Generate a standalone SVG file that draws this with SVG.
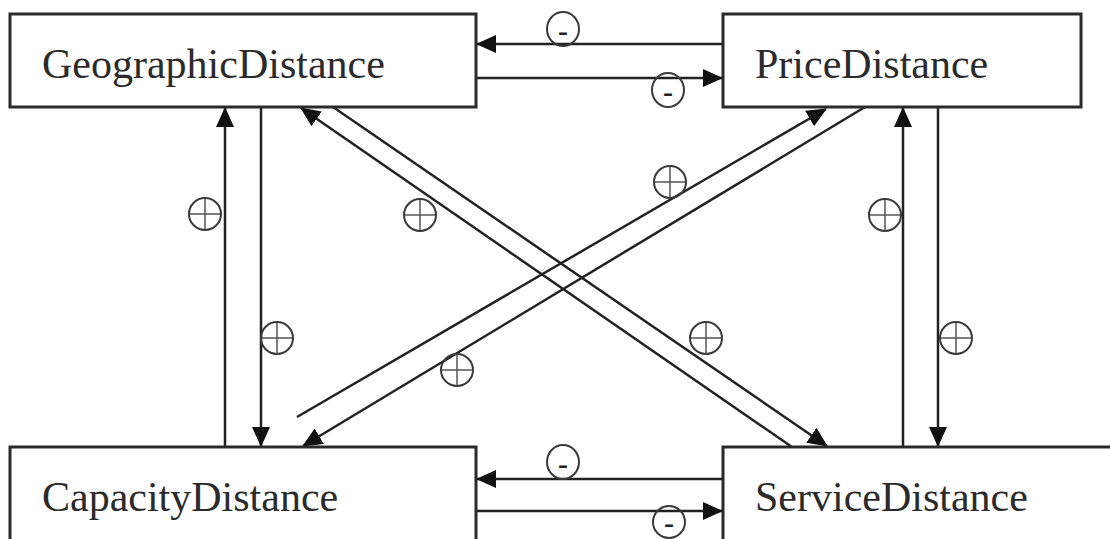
<svg xmlns="http://www.w3.org/2000/svg" width="1110" height="539" viewBox="0 0 1110 539">
<style>
.box{fill:#fff;stroke:#2b2b2b;stroke-width:3}
.lbl{font-family:"Liberation Serif","Times New Roman",serif;font-size:42px;fill:#2b2b2b}
.c{fill:none;stroke:#222;stroke-width:2.5}
.sym{fill:none;stroke:#3a3a3a;stroke-width:2}
.cr{fill:none;stroke:#555;stroke-width:1.5}
.mn{font-family:"Liberation Serif",serif;font-size:30px;font-weight:bold;fill:#222;text-anchor:middle}
</style>
<defs>
<marker id="ah" viewBox="0 0 20 20" refX="19" refY="10" markerWidth="20" markerHeight="20" markerUnits="userSpaceOnUse" orient="auto">
<path d="M0,1 L20,10 L0,19 z" fill="#111"/>
</marker>
<g id="plus">
<circle class="sym" cx="0" cy="0" r="16"/>
<path class="cr" d="M-15,0 H15 M0,-15 V15"/>
</g>
</defs>
<rect width="1110" height="539" fill="#fff"/>
<g id="connectors">
<path class="c" d="M723,44 L477,44" marker-end="url(#ah)"/>
<path class="c" d="M476,78 L722,78" marker-end="url(#ah)"/>
<path class="c" d="M723,479 L477,479" marker-end="url(#ah)"/>
<path class="c" d="M476,511 L722,511" marker-end="url(#ah)"/>
<path class="c" d="M225,447 L225,108" marker-end="url(#ah)"/>
<path class="c" d="M261,107 L261,446" marker-end="url(#ah)"/>
<path class="c" d="M903,447 L903,108" marker-end="url(#ah)"/>
<path class="c" d="M938,107 L938,446" marker-end="url(#ah)"/>
<path class="c" d="M792,447 L301,108" marker-end="url(#ah)"/>
<path class="c" d="M333,107 L827,446" marker-end="url(#ah)"/>
<path class="c" d="M297,417 L826,109" marker-end="url(#ah)"/>
<path class="c" d="M865,107 L303,446" marker-end="url(#ah)"/>
</g>
<g id="polarity">
<g><ellipse class="sym" cx="563" cy="29" rx="16" ry="17"/><text class="mn" x="563" y="41">-</text></g>
<g><ellipse class="sym" cx="668" cy="90" rx="16" ry="17"/><text class="mn" x="668" y="102">-</text></g>
<g><ellipse class="sym" cx="563" cy="462" rx="16" ry="17"/><text class="mn" x="563" y="474">-</text></g>
<g><ellipse class="sym" cx="669" cy="522" rx="16" ry="16"/><text class="mn" x="669" y="533">-</text></g>
<use href="#plus" x="205" y="214"/>
<use href="#plus" x="277" y="338"/>
<use href="#plus" x="420" y="215"/>
<use href="#plus" x="670" y="182"/>
<use href="#plus" x="457" y="370"/>
<use href="#plus" x="706" y="338"/>
<use href="#plus" x="885" y="215"/>
<use href="#plus" x="956" y="338"/>
</g>
<g id="GeographicDistance"><rect class="box" x="10" y="14" width="466" height="93"/><text class="lbl" x="42" y="78">GeographicDistance</text></g>
<g id="PriceDistance"><rect class="box" x="723" y="14" width="358" height="93"/><text class="lbl" x="755" y="78">PriceDistance</text></g>
<g id="CapacityDistance"><rect class="box" x="10" y="447" width="466" height="100"/><text class="lbl" x="42" y="511">CapacityDistance</text></g>
<g id="ServiceDistance"><rect class="box" x="723" y="447" width="400" height="100"/><text class="lbl" x="755" y="511">ServiceDistance</text></g>
</svg>
